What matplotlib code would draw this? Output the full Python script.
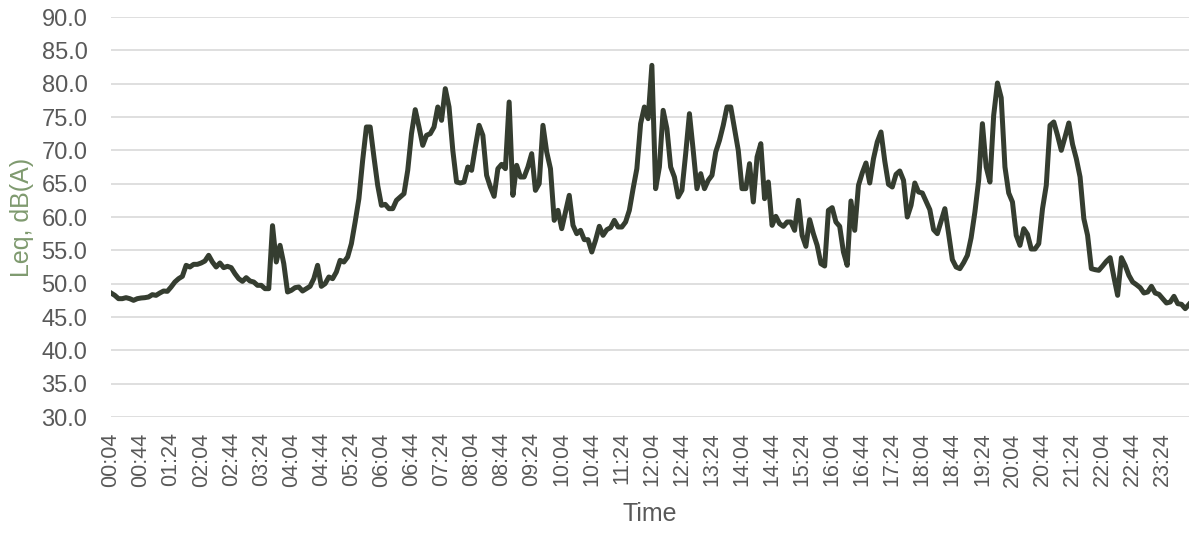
import matplotlib
matplotlib.use("Agg")
import matplotlib.pyplot as plt
import numpy as np

plt.rcParams["font.family"] = ["Liberation Sans", "DejaVu Sans"]

# 5-minute Leq readings, 00:04 .. 23:59
times = [f"{(4 + 5 * i) // 60:02d}:{(4 + 5 * i) % 60:02d}" for i in range(288)]

leq_night = [
    48.6, 48.25, 47.75, 47.75, 47.9, 47.75, 47.5, 47.75, 47.85, 47.9,
    48.0, 48.35, 48.25, 48.6, 48.9, 48.85, 49.5, 50.25, 50.75, 51.1,
    52.75, 52.5, 52.9, 52.9, 53.1, 53.4, 54.25, 53.25, 52.5, 53.1,
    52.4, 52.6, 52.4, 51.5, 50.75, 50.35, 50.9, 50.4, 50.25, 49.75,
    49.75, 49.25, 49.25, 58.7, 53.25, 55.75, 53.0, 48.75, 49.0, 49.4,
    49.5, 48.9, 49.25, 49.6, 50.75, 52.75, 49.6, 50.0, 51.0, 50.75,
    51.75, 53.5, 53.25, 54.0, 56.0, 59.25, 62.75, 68.5, 73.5, 73.5,
    69.0, 64.75, 61.75, 61.9, 61.25, 61.25, 62.5, 63.0,
]

leq_day = [
    63.5, 67.0, 72.5, 76.1, 73.5, 70.75, 72.25, 72.5, 73.5, 76.5,
    74.5, 79.25, 76.5, 70.0, 65.25, 65.1, 65.25, 67.5, 67.0, 70.5,
    73.75, 72.25, 66.25, 64.5, 63.1, 67.25, 67.9, 67.25, 77.25, 63.25,
    67.75, 66.0, 66.0, 67.5, 69.5, 64.0, 65.0, 73.75, 69.75, 67.25,
    59.5, 61.0, 58.25, 60.75, 63.25, 58.75, 57.5, 58.0, 56.6, 56.6,
    54.75, 56.5, 58.6, 57.25, 58.1, 58.4, 59.5, 58.5, 58.5, 59.25,
    61.0, 64.25, 67.25, 74.0, 76.5, 74.75, 82.75, 64.25, 67.5, 76.0,
    73.25, 67.5, 66.0, 63.0, 64.0, 69.5, 75.5, 70.0, 64.25, 66.5,
    64.25, 65.5, 66.25, 69.75, 71.5, 73.75, 76.5, 76.5, 73.25, 70.0,
    64.25, 64.25, 68.0, 62.25, 69.0, 71.0, 62.75, 65.25, 58.75, 60.1,
    59.0, 58.6, 59.25, 59.25, 58.0, 62.5,
]

leq_evening = [
    57.25, 55.6, 59.6, 57.5, 55.75, 53.0, 52.65, 61.0, 61.4, 59.25,
    58.6, 54.75, 52.75, 62.4, 58.0, 64.75, 66.6, 68.1, 65.1, 68.75,
    71.25, 72.75, 68.4, 64.9, 64.5, 66.4, 66.9, 65.5, 60.0, 61.75,
    65.1, 63.75, 63.6, 62.35, 61.1, 58.1, 57.5, 59.4, 61.25, 57.5,
    53.6, 52.5, 52.25, 53.15, 54.25, 56.9, 60.75, 65.5, 74.0, 67.5,
    65.25, 75.25, 80.1, 77.9, 67.5, 63.6, 62.25, 57.25, 55.75, 58.25,
    57.4, 55.2, 55.2, 56.0, 61.25, 64.75, 73.75, 74.25, 72.25, 70.0,
    72.0, 74.1, 70.9, 68.75, 66.0, 59.75, 57.25, 52.25, 52.1, 52.0,
    52.65, 53.35, 53.9, 51.0, 48.25, 53.9, 52.75, 51.25, 50.25, 49.85,
    49.4, 48.6, 48.75, 49.6, 48.6, 48.4, 47.75, 47.1, 47.25, 48.1,
    47.0, 46.9, 46.25, 46.9,
]

leq = leq_night + leq_day + leq_evening
y_ticks = np.arange(30, 90.1, 5)

text_grey = "#595959"

fig = plt.figure(figsize=(11.95, 5.33), dpi=100)
ax = fig.add_axes([111 / 1195, 1 - 417 / 533, (1189 - 111) / 1195, 400 / 533])

x = np.arange(len(leq))
ax.plot(x, leq, color="#353d30", lw=3.6, solid_joinstyle="round", zorder=3)

ax.set_xlim(0, len(leq) - 1)
ax.set_ylim(30, 90)
ax.set_yticks(y_ticks)
ax.set_yticklabels([f"{v:.1f}" for v in y_ticks])
ax.set_xticks(x[::8])
ax.set_xticklabels(times[::8], rotation=90)

ax.grid(axis="y", color="#d9d9d9", lw=1.2, zorder=0)
ax.tick_params(length=0, colors=text_grey)
ax.tick_params(axis="y", labelsize=17, pad=17)
ax.tick_params(axis="x", labelsize=15.5, pad=11)
for s in ax.spines.values():
    s.set_visible(False)

fig.text(22 / 1195, 1 - 217 / 533, "Leq, dB(A)", rotation=90, ha="center",
         va="center", fontsize=18, color="#7f9a6f")
fig.text(650 / 1195, 1 - 514 / 533, "Time", ha="center", va="center",
         fontsize=18, color=text_grey)

fig.savefig("out.png", dpi=100)
